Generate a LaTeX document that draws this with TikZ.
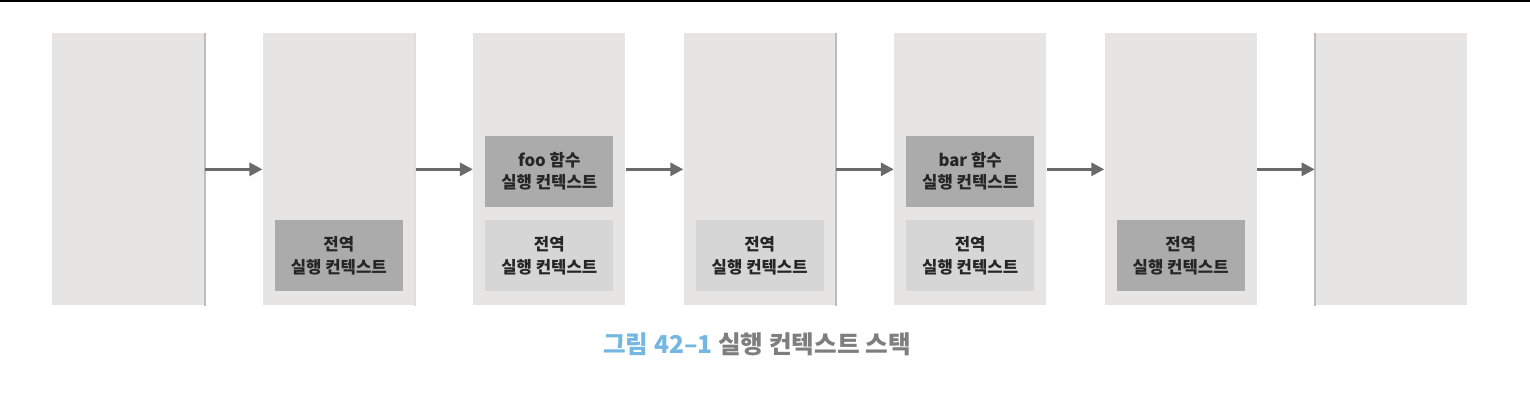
\documentclass[tikz,border=0pt]{standalone}
\usepackage{fontspec}
\setmainfont{Noto Sans CJK KR}
\usepackage{xcolor}
\usepackage{tikz}
\usetikzlibrary{positioning,arrows.meta}

\definecolor{panelgray}{HTML}{E6E5E3}
\definecolor{edgegray}{HTML}{BDBDBD}
\definecolor{ctxdarkgray}{HTML}{ABABAB}
\definecolor{ctxlightgray}{HTML}{D6D6D6}
\definecolor{arrowgray}{HTML}{6A6A6A}
\definecolor{capblue}{HTML}{74B8E2}
\definecolor{capgray}{HTML}{7E7E7E}

\begin{document}
\begin{tikzpicture}[
  node distance=1.155cm,
  panel/.style={fill=panelgray, minimum width=3.04cm, minimum height=5.44cm, inner sep=0pt},
  ctx/.style={minimum width=2.56cm, minimum height=1.42cm, inner sep=0pt, align=center,
              font=\fontsize{9.5}{13}\selectfont\bfseries, text=black!85},
  outer/.style={ctx, fill=ctxdarkgray},
  inner/.style={ctx, fill=ctxlightgray},
  ar/.style={-{Triangle[length=2.6mm, width=2.6mm]}, line width=1.7pt, draw=arrowgray, shorten <=0.2pt},
  edge/.style={draw=edgegray, line width=1.2pt}
]
\useasboundingbox (0,0) rectangle (30.6,-8);
\draw[line width=1.2pt] (0,-0.02) -- (30.6,-0.02);
% stack snapshots
\node[panel, anchor=north west] (s1) at (1.04,-0.66) {};
\node[panel, right=of s1] (s2) {};
\node[panel, right=of s2] (s3) {};
\node[panel, right=of s3] (s4) {};
\node[panel, right=of s4] (s5) {};
\node[panel, right=of s5] (s6) {};
\node[panel, right=of s6] (s7) {};
\draw[edge] (s1.north east) -- (s1.south east);
\draw[edge, draw=edgegray!50] (s2.north east) -- (s2.south east);
\draw[edge] (s4.north east) -- (s4.south east);
\draw[edge] (s7.north west) -- (s7.south west);
% execution contexts
\node[outer, anchor=south, above=0.28cm of s2.south] (g2) {전역\\실행 컨텍스트};
\node[inner, anchor=south, above=0.28cm of s3.south] (g3) {전역\\실행 컨텍스트};
\node[outer, above=0.26cm of g3] (foo) {foo 함수\\실행 컨텍스트};
\node[inner, anchor=south, above=0.28cm of s4.south] (g4) {전역\\실행 컨텍스트};
\node[inner, anchor=south, above=0.28cm of s5.south] (g5) {전역\\실행 컨텍스트};
\node[outer, above=0.26cm of g5] (bar) {bar 함수\\실행 컨텍스트};
\node[outer, anchor=south, above=0.28cm of s6.south] (g6) {전역\\실행 컨텍스트};
\foreach \a/\b in {s1/s2, s2/s3, s3/s4, s4/s5, s5/s6, s6/s7} \draw[ar] (\a) -- (\b);
% caption
\node[font=\fontsize{14}{17}\selectfont\bfseries] (cap) at (15.14,-6.88)
  {\textcolor{capblue}{그림 42–1} \textcolor{capgray}{실행 컨텍스트 스택}};
\end{tikzpicture}
\end{document}
